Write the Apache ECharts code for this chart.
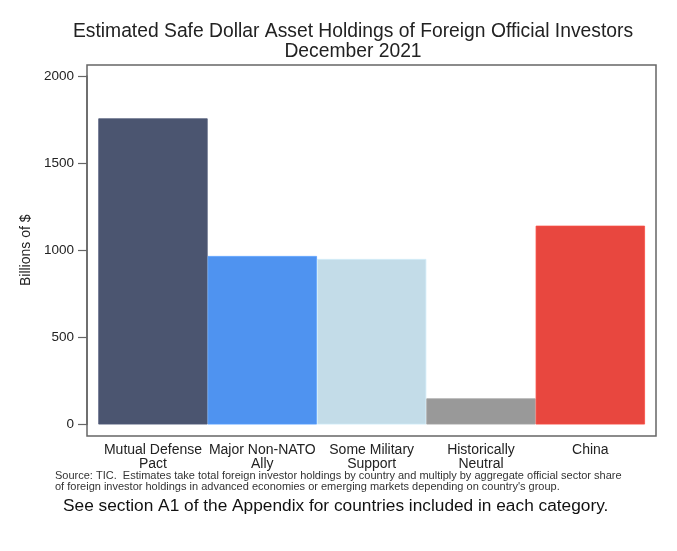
<!DOCTYPE html>
<html>
<head>
<meta charset="utf-8">
<script src="https://cdn.jsdelivr.net/npm/echarts@6/dist/echarts.min.js"></script>
<style>
html,body{margin:0;padding:0;background:#fff;}
#c{width:677px;height:551px;}
</style>
</head>
<body>
<div id="c"></div>
<script>
const categories = ['Mutual Defense\nPact', 'Major Non-NATO\nAlly', 'Some Military\nSupport', 'Historically\nNeutral', 'China'];
const values = [1757, 967, 950, 150, 1141];
const barColors = ['#4b5570', '#4f93f0', '#c3dce8', '#999999', '#e8473f'];
const yTicks = { min: 0, max: 2000, interval: 500 };
const titleText = 'Estimated Safe Dollar Asset Holdings of Foreign Official Investors\nDecember 2021';
const yName = 'Billions of $';
const sourceNote = "Source: TIC.  Estimates take total foreign investor holdings by country and multiply by aggregate official sector share\nof foreign investor holdings in advanced economies or emerging markets depending on country's group.";
const footNote = 'See section A1 of the Appendix for countries included in each category.';

const FONT = 'Liberation Sans, Arial, Helvetica, sans-serif';
const chart = echarts.init(document.getElementById('c'));
chart.setOption({
  animation: false,
  backgroundColor: '#fff',
  title: {
    text: titleText,
    left: 348,
    top: 17,
    textAlign: 'center',
    textStyle: { fontFamily: FONT, fontSize: 19.3, fontWeight: 'normal', color: '#222', lineHeight: 20 }
  },
  grid: [
    { left: 87, right: 21, top: 65, bottom: 115, show: true, borderColor: '#666', borderWidth: 1.5, backgroundColor: '#fff', containLabel: false },
    { left: 98.3, right: 32, top: 76, bottom: 126.5, containLabel: false }
  ],
  xAxis: [
    { gridIndex: 0, type: 'value', show: false },
    {
      gridIndex: 1, type: 'category', data: categories,
      axisLine: { show: false }, axisTick: { show: false },
      axisLabel: { fontFamily: FONT, fontSize: 14, color: '#222', margin: 19, lineHeight: 14, interval: 0 }
    }
  ],
  yAxis: [
    { gridIndex: 0, type: 'value', show: false },
    {
      gridIndex: 1, type: 'value', min: yTicks.min, max: yTicks.max, interval: yTicks.interval,
      offset: 11.3,
      name: yName, nameLocation: 'middle', nameGap: 47, nameRotate: 90,
      nameTextStyle: { fontFamily: FONT, fontSize: 14, color: '#222' },
      axisLine: { show: true, lineStyle: { color: '#666', width: 1.5 } },
      axisTick: { show: true, inside: false, length: 9, lineStyle: { color: '#666', width: 1.2 } },
      axisLabel: { fontFamily: FONT, fontSize: 13.5, color: '#222', margin: 13, formatter: v => String(v) },
      splitLine: { show: false }
    }
  ],
  series: [{
    type: 'bar',
    xAxisIndex: 1, yAxisIndex: 1,
    barCategoryGap: '0%',
    data: values.map((v, i) => ({ value: v, itemStyle: { color: barColors[i], borderColor: echarts.color.lift(barColors[i], -0.08), borderWidth: 0.8 } }))
  }],
  graphic: [
    {
      type: 'text', left: 55, top: 470,
      style: { text: sourceNote, font: '11px ' + FONT, fill: '#333', lineHeight: 11 }
    },
    {
      type: 'text', left: 63, top: 498,
      style: { text: footNote, font: '17.3px ' + FONT, fill: '#111' }
    }
  ]
});
</script>
</body>
</html>
